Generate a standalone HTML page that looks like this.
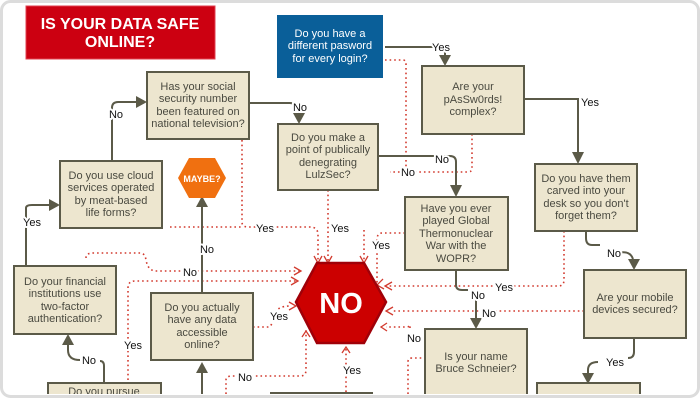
<!DOCTYPE html>
<html><head><meta charset="utf-8"><style>
html,body{margin:0;padding:0;background:#fff;width:700px;height:400px;overflow:hidden;}
svg{display:block;}
text{font-family:"Liberation Sans",Arial,sans-serif;}
.b{fill:#ede6cf;stroke:#5b5a48;stroke-width:2;}
.t{font-size:11px;fill:#4a4a40;text-anchor:middle;}
.s{fill:none;stroke:#5b5a48;stroke-width:2;}
.d{fill:none;stroke:#d23a2e;stroke-width:1.6;stroke-dasharray:1.6 3;}
.l{font-size:11px;fill:#111;text-anchor:middle;stroke:#fff;stroke-width:4;paint-order:stroke;stroke-linejoin:round;}
.ah{fill:#5b5a48;}
.ra{fill:none;stroke:#d23a2e;stroke-width:1.3;}
</style></head><body>
<svg width="700" height="400" viewBox="0 0 700 400" xmlns="http://www.w3.org/2000/svg">
<defs><clipPath id="c"><rect x="3" y="3" width="694" height="391" rx="8"/></clipPath></defs>
<rect x="1.5" y="1.5" width="697" height="395" rx="9" fill="#fff" stroke="#dcdcdc" stroke-width="3"/>
<g clip-path="url(#c)">
<rect x="26" y="6" width="189" height="53" fill="#cc0011" stroke="#e04050" stroke-width="1"/>
<text x="120" y="29" font-size="16" font-weight="bold" fill="#fff" text-anchor="middle">IS YOUR DATA SAFE</text>
<text x="120" y="47" font-size="16" font-weight="bold" fill="#fff" text-anchor="middle">ONLINE?</text>
<rect x="277" y="15" width="106" height="63" fill="#0a5f99"/>
<text class="t" x="330" y="37" style="fill:#fff">Do you have a</text>
<text class="t" x="330" y="49" style="fill:#fff">different pasword</text>
<text class="t" x="330" y="62" style="fill:#fff">for every login?</text>

<path class="d" d="M385 60 H403 Q406 60 406 64 V172 H390"/>
<path class="d" d="M472 134 V168 Q472 172 468 172 H410"/>
<path class="d" d="M242 140 V222 Q242 227 248 227 H310 Q318 227 318 235 V262"/>
<path class="d" d="M170 227 H242"/>
<path class="d" d="M328 190 V262"/>
<path class="d" d="M364 230 V262"/>
<path class="d" d="M405 233 H382 Q377 233 377 240 V286"/>
<path class="d" d="M86 258 Q86 253 93 253 H140 Q145 253 146 260 Q148 271 156 271 H300"/>
<path class="d" d="M128 380 V288 Q128 281 135 281 H296"/>
<path class="d" d="M253 327 H268 Q272 327 274 316 Q276 306 290 306"/>
<path class="d" d="M564 231 V280 Q564 286 558 286 H386"/>
<path class="d" d="M584 311 H392"/>
<path class="d" d="M408 394 V362 Q408 358 412 358 H425"/>
<path class="d" d="M410 328 V325 Q410 327 405 327 H386"/>
<path class="d" d="M226 394 V380 Q226 376 232 376 H300 Q306 376 306 370 V330"/>
<path class="d" d="M346 392 V348"/>
<path class="ra" d="M314 256 L318 263 L322 256"/>
<path class="ra" d="M324 256 L328 263 L332 256"/>
<path class="ra" d="M360 256 L364 263 L368 256"/>
<path class="ra" d="M294 267 L301 271 L294 275"/>
<path class="ra" d="M291 277 L298 281 L291 285"/>
<path class="ra" d="M289 302 L296 306 L289 310"/>
<path class="ra" d="M383 279 L377 285 L384 289"/>
<path class="ra" d="M392 282 L385 286 L392 290"/>
<path class="ra" d="M393 307 L386 311 L393 315"/>
<path class="ra" d="M387 323 L381 327 L387 331"/>
<path class="ra" d="M302 337 L306 331 L310 337"/>
<path class="ra" d="M342 353 L346 347 L350 353"/>

<path class="s" d="M112 160 V108 Q112 102 118 102 H138"/>
<polygon class="ah" points="147,102 136,96 136,108"/>
<path class="s" d="M249 103 H290 Q296 103 299 110 V117"/>
<polygon class="ah" points="299,124 293,113 305,113"/>
<path class="s" d="M385 47 H437 Q444 47 445 53 V59"/>
<polygon class="ah" points="445,66 439,55 451,55"/>
<path class="s" d="M524 99 H578 V155"/>
<polygon class="ah" points="578,164 572,152 584,152"/>
<path class="s" d="M378 156 H450 Q456 156 456 162 V188"/>
<polygon class="ah" points="456,197 450,185 462,185"/>
<path class="s" d="M26 265 V208 Q26 205 32 205 H50"/>
<polygon class="ah" points="60,205 49,199 49,211"/>
<path class="s" d="M202 292 V206"/>
<polygon class="ah" points="202,196 196,207 208,207"/>
<path class="s" d="M456 270 V285 Q456 290 462 290 H468"/>
<path class="s" d="M476 300 V320"/>
<polygon class="ah" points="476,329 470,318 482,318"/>
<path class="s" d="M586 231 V238 Q586 245 592 245 H600"/>
<path class="s" d="M618 253 Q630 250 633 259"/>
<polygon class="ah" points="634,270 628,259 640,259"/>
<path class="s" d="M634 338 V352 Q634 358 628 358"/>
<path class="s" d="M598 362 Q588 362 588 370 V376"/>
<polygon class="ah" points="588,384 582,373 594,373"/>
<path class="s" d="M104 383 V366 Q104 361 100 361"/>
<path class="s" d="M80 360 Q68 360 68 350 V343"/>
<polygon class="ah" points="68,334 62,345 74,345"/>
<path class="s" d="M202 394 V372"/>
<polygon class="ah" points="202,362 196,373 208,373"/>

<polygon points="178,178 189,158 215,158 226,178 215,198 189,198" fill="#f07010"/>
<text x="202" y="182" font-size="9" font-weight="bold" fill="#fff" text-anchor="middle">MAYBE?</text>

<polygon points="296,302 317,263 364,263 386,302 364,343 317,343" fill="#cc0000" stroke="#a00008" stroke-width="2.5"/>
<text x="341" y="313" font-size="29" font-weight="bold" fill="#fff" text-anchor="middle">NO</text>

<rect class="b" x="147" y="72" width="102" height="67"/>
<text class="t" x="198" y="90">Has your social</text><text class="t" x="198" y="102">security number</text><text class="t" x="198" y="115">been featured on</text><text class="t" x="198" y="127">national television?</text>
<rect class="b" x="278" y="124" width="100" height="66"/>
<text class="t" x="328" y="141">Do you make a</text><text class="t" x="328" y="153">point of publically</text><text class="t" x="328" y="166">denegrating</text><text class="t" x="328" y="178">LulzSec?</text>
<rect class="b" x="422" y="66" width="102" height="68"/>
<text class="t" x="473" y="90">Are your</text><text class="t" x="473" y="103">pAsSw0rds!</text><text class="t" x="473" y="115">complex?</text>
<rect class="b" x="60" y="161" width="102" height="67"/>
<text class="t" x="111" y="179">Do you use cloud</text><text class="t" x="111" y="191">services operated</text><text class="t" x="111" y="204">by meat-based</text><text class="t" x="111" y="216">life forms?</text>
<rect class="b" x="535" y="164" width="102" height="67"/>
<text class="t" x="586" y="182">Do you have them</text><text class="t" x="586" y="194">carved into your</text><text class="t" x="586" y="207">desk so you don't</text><text class="t" x="586" y="219">forget them?</text>
<rect class="b" x="405" y="197" width="103" height="73"/>
<text class="t" x="456" y="212">Have you ever</text><text class="t" x="456" y="224">played Global</text><text class="t" x="456" y="237">Thermonuclear</text><text class="t" x="456" y="249">War with the</text><text class="t" x="456" y="262">WOPR?</text>
<rect class="b" x="14" y="266" width="102" height="68"/>
<text class="t" x="65" y="285">Do your financial</text><text class="t" x="65" y="297">institutions use</text><text class="t" x="65" y="310">two-factor</text><text class="t" x="65" y="322">authentication?</text>
<rect class="b" x="151" y="293" width="102" height="67"/>
<text class="t" x="202" y="311">Do you actually</text><text class="t" x="202" y="323">have any data</text><text class="t" x="202" y="336">accessible</text><text class="t" x="202" y="348">online?</text>
<rect class="b" x="584" y="270" width="102" height="68"/>
<text class="t" x="635" y="301">Are your mobile</text><text class="t" x="635" y="313">devices secured?</text>
<rect class="b" x="425" y="329" width="102" height="66"/>
<text class="t" x="476" y="360">Is your name</text><text class="t" x="476" y="372">Bruce Schneier?</text>
<rect class="b" x="48" y="383" width="113" height="12"/>
<text class="t" x="104" y="395">Do you pursue</text>
<rect class="b" x="271" y="393" width="101" height="2"/>
<rect class="b" x="537" y="383" width="103" height="12"/>

<text class="l" x="116" y="118">No</text>
<text class="l" x="300" y="111">No</text>
<text class="l" x="441" y="51">Yes</text>
<text class="l" x="590" y="106">Yes</text>
<text class="l" x="442" y="163">No</text>
<text class="l" x="408" y="176">No</text>
<text class="l" x="32" y="226">Yes</text>
<text class="l" x="207" y="253">No</text>
<text class="l" x="265" y="232">Yes</text>
<text class="l" x="340" y="232">Yes</text>
<text class="l" x="381" y="249">Yes</text>
<text class="l" x="190" y="276">No</text>
<text class="l" x="279" y="320">Yes</text>
<text class="l" x="133" y="349">Yes</text>
<text class="l" x="89" y="364">No</text>
<text class="l" x="504" y="291">Yes</text>
<text class="l" x="478" y="299">No</text>
<text class="l" x="489" y="317">No</text>
<text class="l" x="614" y="257">No</text>
<text class="l" x="615" y="366">Yes</text>
<text class="l" x="414" y="342">No</text>
<text class="l" x="352" y="374">Yes</text>
<text class="l" x="245" y="381">No</text>
</g>
</svg>
</body></html>
